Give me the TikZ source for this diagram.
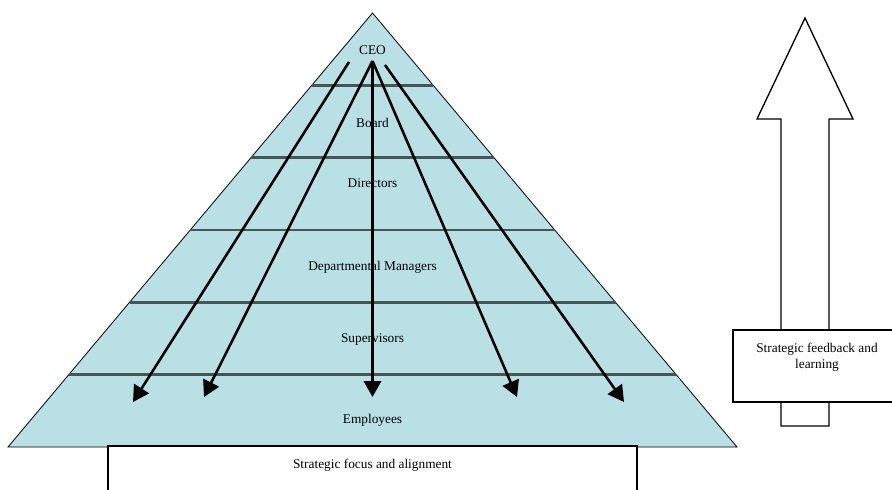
\documentclass[tikz,border=0pt]{standalone}
\usepackage{fontspec}
\setmainfont{Liberation Serif}
\usetikzlibrary{arrows.meta,calc}
\definecolor{pyrfill}{RGB}{185,224,228}
\definecolor{tierline}{RGB}{70,85,85}
\begin{document}
\begin{tikzpicture}[x=0.75pt,y=-0.75pt,
  lbl/.style={font=\fontsize{10}{12}\selectfont,inner sep=0pt},
  tier/.style={draw=tierline,line width=1.9pt},
  push/.style={-{Triangle[length=12pt,width=13pt]},line width=1.9pt},
  framebox/.style={draw,line width=1.5pt,fill=white}]
  \useasboundingbox (0,0) rectangle (892,489);
  % pyramid
  \coordinate (apex) at (372.5,13);
  \coordinate (bl) at (8,447);
  \coordinate (br) at (737,447);
  \filldraw[fill=pyrfill,draw=black,line width=0.6pt] (apex) -- (bl) -- (br) -- cycle;
  % tiers
  \foreach \k in {1,...,5}
    \draw[tier] ($(apex)!\k/6!(bl)$) -- ($(apex)!\k/6!(br)$);
  % labels
  \node[lbl] (ceo) at (372.5,50) {CEO};
  \node[lbl] (board) at (372.5,123) {Board};
  \node[lbl] (dir) at (372.5,183) {Directors};
  \node[lbl] (dept) at (372.5,267) {Departmental Managers};
  \node[lbl] (sup) at (372.5,340) {Supervisors};
  \node[lbl] (emp) at (372.5,420) {Employees};
  % cascade arrows
  \coordinate (s1) at (349,62);
  \coordinate (s2) at (372.5,61);
  \coordinate (s3) at (385,65);
  \coordinate (e1) at (133,402);
  \coordinate (e2) at (204,397);
  \coordinate (e3) at (372.5,397);
  \coordinate (e4) at (517,397);
  \coordinate (e5) at (624,402);
  \draw[push] (s1) -- (e1);
  \draw[push] (s2) -- (e2);
  \draw[push] (s2) -- (e3);
  \draw[push] (s2) -- (e4);
  \draw[push] (s3) -- (e5);
  % focus box
  \draw[framebox] (108,446) rectangle (637,500);
  \node[lbl] (focus) at (372.5,465) {Strategic focus and alignment};
  % feedback arrow
  \draw[line width=1pt,fill=white] (805,18) -- (853,119) -- (829,119) -- (829,426)
    -- (781,426) -- (781,119) -- (757,119) -- cycle;
  \draw[framebox] (733,330) rectangle (905,402);
  \node[lbl,align=center] (feedback) at (817,357) {Strategic feedback and\\learning};
\end{tikzpicture}
\end{document}
